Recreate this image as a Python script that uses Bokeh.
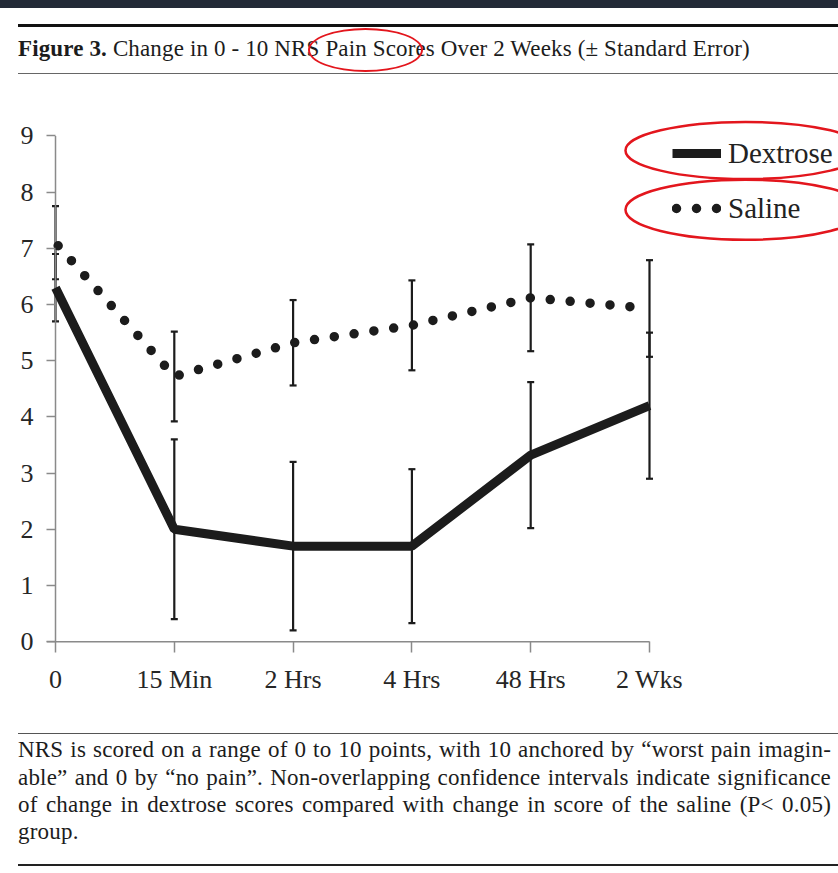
from bokeh.plotting import figure
from bokeh.layouts import column
from bokeh.models import (Range1d, FixedTicker, Legend, LegendItem,
                          ColumnDataSource, Whisker, TeeHead, Div)
from bokeh.embed import file_html
from bokeh.resources import INLINE

# ---------------- data ----------------
time_labels = ["0", "15 Min", "2 Hrs", "4 Hrs", "48 Hrs", "2 Wks"]
dextrose = [6.3, 2.0, 1.7, 1.7, 3.32, 4.2]
dextrose_se = [0.6, 1.6, 1.5, 1.37, 1.3, 1.3]
saline = [7.1, 4.72, 5.32, 5.63, 6.12, 5.93]
saline_se = [0.65, 0.8, 0.76, 0.8, 0.95, 0.86]
y_ticks = [0, 1, 2, 3, 4, 5, 6, 7, 8, 9]
series_names = ["Dextrose", "Saline"]

title_bold = "Figure 3."
title_before = "Change in 0 - 10 NRS"
title_marked = "Pain Scores"
title_after = "Over 2 Weeks (\u00b1 Standard Error)"
caption_lines = [
    "NRS is scored on a range of 0 to 10 points, with 10 anchored by \u201cworst pain imagin-",
    "able\u201d and 0 by \u201cno pain\u201d. Non-overlapping confidence intervals indicate significance",
    "of change in dextrose scores compared with change in score of the saline (P< 0.05)",
    "group.",
]

FONT = "Liberation Serif"
INK = "#1c1c1c"
RED = "#e3161d"
W = 838

# ---------------- title band (HTML text) ----------------
title_html = (
    f'<div style="position:relative;width:{W}px;height:112px;overflow:hidden;'
    f'font-family:\'{FONT}\',serif;color:{INK};">'
    '<div style="position:absolute;left:0;top:0;width:100%;height:8px;background:#232a37;"></div>'
    '<div style="position:absolute;left:18px;top:24.2px;width:830px;height:0;border-top:3.5px solid #111;"></div>'
    '<div style="position:absolute;left:18px;top:36.7px;font-size:23px;line-height:23px;'
    'letter-spacing:0.14px;white-space:nowrap;">'
    f'<b>{title_bold}</b> {title_before} '
    f'<span style="position:relative;">{title_marked}'
    f'<span style="position:absolute;left:-17px;top:-7.5px;width:115px;height:44px;'
    f'border:2.5px solid {RED};border-radius:50%;box-sizing:border-box;"></span></span>'
    f' {title_after}</div>'
    '<div style="position:absolute;left:18px;top:73.3px;width:830px;height:0;border-top:1.5px solid #666;"></div>'
    '</div>'
)
title_div = Div(text=title_html, width=W, height=112, margin=0)

# ---------------- chart ----------------
n = len(time_labels)
xs = list(range(n))
src = ColumnDataSource(dict(
    x=xs, dex=dextrose, sal=saline,
    dex_lo=[v - e for v, e in zip(dextrose, dextrose_se)],
    dex_hi=[v + e for v, e in zip(dextrose, dextrose_se)],
    sal_lo=[v - e for v, e in zip(saline, saline_se)],
    sal_hi=[v + e for v, e in zip(saline, saline_se)],
))

x_start = -0.0758
p = figure(width=W, height=608, x_range=Range1d(x_start, 6.591), y_range=Range1d(-0.05, 9.418),
           output_backend="svg", toolbar_location=None, margin=0,
           min_border_left=46, min_border_right=0, min_border_top=0, min_border_bottom=76)
p.grid.visible = False
p.outline_line_color = None

p.xaxis.ticker = FixedTicker(ticks=xs)
p.xaxis.major_label_overrides = {i: lab for i, lab in enumerate(time_labels)}
p.yaxis.ticker = FixedTicker(ticks=y_ticks)
for ax in (p.xaxis, p.yaxis):
    ax.axis_line_color = None
    ax.minor_tick_line_color = None
    ax.major_tick_line_color = "#8a8a8a"
    ax.major_tick_line_width = 1.5
    ax.major_label_text_font = FONT
    ax.major_label_text_font_size = "26px"
    ax.major_label_text_color = "#262626"
p.xaxis.major_tick_in = 3
p.xaxis.major_tick_out = 8
p.xaxis.major_label_standoff = 12
p.yaxis.major_tick_in = 9
p.yaxis.major_tick_out = 0
p.yaxis.major_label_standoff = 13

# axis lines: from the first to the last category / tick
p.segment(x0=[x_start], x1=[xs[-1]], y0=[y_ticks[0]], y1=[y_ticks[0]],
          line_color="#8a8a8a", line_width=1.5)
p.segment(x0=[xs[0]], x1=[xs[0]], y0=[y_ticks[0]], y1=[y_ticks[-1]],
          line_color="#8a8a8a", line_width=1.5)

r_dex = p.line("x", "dex", source=src, line_width=9, line_color=INK)
r_sal = p.line("x", "sal", source=src, line_width=9.5, line_color=INK,
               line_dash="0 20", line_dash_offset=16, line_cap="round")

for lo, hi in (("dex_lo", "dex_hi"), ("sal_lo", "sal_hi")):
    w = Whisker(source=src, base="x", lower=lo, upper=hi,
                line_color=INK, line_width=2.2,
                upper_head=TeeHead(size=7, line_width=2.2, line_color=INK),
                lower_head=TeeHead(size=7, line_width=2.2, line_color=INK))
    p.add_layout(w)

legend = Legend(items=[LegendItem(label=series_names[0], renderers=[r_dex]),
                       LegendItem(label=series_names[1], renderers=[r_sal])],
                location=(626, 416), padding=0, margin=0, spacing=15,
                glyph_width=49, glyph_height=40, label_height=40, label_standoff=7,
                label_text_font=FONT, label_text_font_size="29px",
                label_text_color="#222222",
                border_line_alpha=0, background_fill_alpha=0)
p.add_layout(legend)

# highlight rings drawn around the legend entries
p.ellipse(x=[5.808, 5.808], y=[8.742, 7.687], width=[240, 240], height=[57, 60],
          width_units="screen", height_units="screen",
          fill_alpha=0, line_color=RED, line_width=2.5)

# ---------------- caption band (HTML text) ----------------
line_divs = "".join(
    f'<div style="text-align:{"justify" if i < len(caption_lines) - 1 else "left"};'
    f'text-align-last:{"justify" if i < len(caption_lines) - 1 else "left"};">{t}</div>'
    for i, t in enumerate(caption_lines)
)
caption_html = (
    f'<div style="position:relative;width:{W}px;height:153px;overflow:hidden;'
    f'font-family:\'{FONT}\',serif;color:{INK};font-size:23px;letter-spacing:0.2px;">'
    '<div style="position:absolute;left:18px;top:13.1px;width:830px;height:0;border-top:1.8px solid #555;"></div>'
    f'<div style="position:absolute;left:18px;top:16.3px;width:813px;line-height:27.3px;">{line_divs}</div>'
    '<div style="position:absolute;left:18px;top:143.8px;width:830px;height:0;border-top:2.5px solid #222;"></div>'
    '</div>'
)
caption_div = Div(text=caption_html, width=W, height=153, margin=0)

layout = column(title_div, p, caption_div, spacing=0)
open("out.html", "w").write(file_html(layout, INLINE))
